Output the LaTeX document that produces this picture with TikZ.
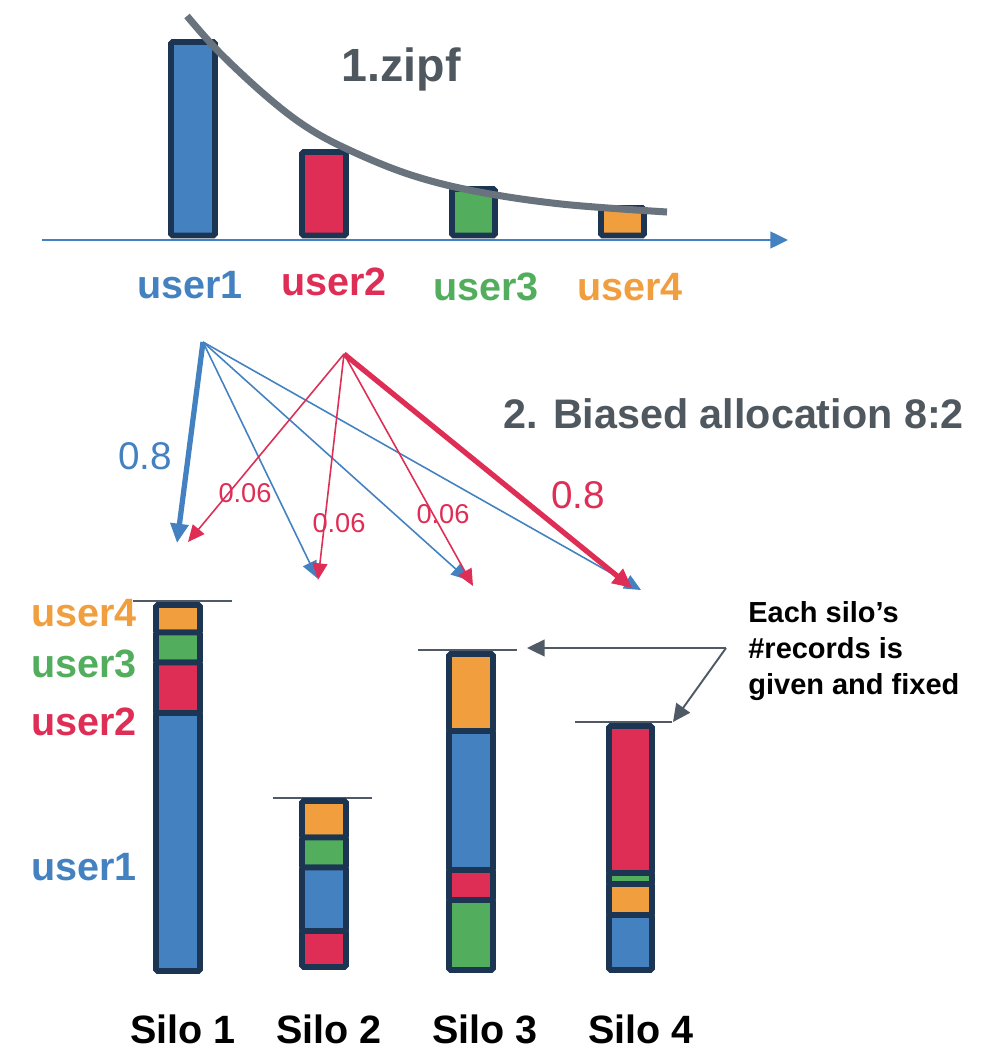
\documentclass[tikz,border=0pt]{standalone}
\usepackage{fontspec}
\setmainfont{Liberation Sans}
\usetikzlibrary{arrows.meta, positioning}
\definecolor{ublue}{HTML}{4381C0}
\definecolor{ured}{HTML}{DF2E55}
\definecolor{ugreen}{HTML}{52AE5D}
\definecolor{uorange}{HTML}{F09E3E}
\definecolor{navy}{HTML}{1B3553}
\definecolor{curvegray}{HTML}{69737D}
\definecolor{textgray}{HTML}{4F575F}
\definecolor{notegray}{HTML}{4F5A66}
\tikzstyle{bar} = [draw=navy, line width=3.3pt, rounded corners=1pt]
\tikzstyle{siloline} = [draw=notegray, line width=1.1pt]
\tikzstyle{flow} = [-{Triangle[length=9.5pt,width=8.5pt]}, line width=0.9pt]
\tikzstyle{bigflow} = [-{Triangle[length=11pt,width=10pt]}, line width=3pt]
\tikzstyle{pointer} = [-{Triangle[length=10pt,width=9.5pt]}, draw=notegray, line width=1.1pt]
\tikzstyle{lbl} = [font=\bfseries\fontsize{22.5}{27}\selectfont, inner sep=0pt]
\tikzstyle{prob} = [font=\fontsize{22}{26}\selectfont, inner sep=0pt]
\tikzstyle{smallprob} = [font=\fontsize{15.5}{18}\selectfont, inner sep=0pt, ured]

\begin{document}
\begin{tikzpicture}[x=0.02cm, y=-0.02cm]
  \useasboundingbox (0,0) rectangle (982,1054);
  % zipf bars
  \foreach \xl/\xr/\yt/\c in {171/215/42/ublue, 302/346/152/ured,
      452/495/189/ugreen, 601/644/208/uorange}
    \draw[bar, fill=\c] (\xl,\yt) rectangle (\xr,235.5);
  \coordinate (axstart) at (42,240);
  \coordinate (axend) at (788,240);
  \draw[ublue, line width=1.2pt, -{Triangle[length=10pt,width=9.5pt]}] (axstart) -- (axend);
  \draw[curvegray, line width=4pt] plot[smooth, tension=0.6] coordinates
    {(187,16) (219,52) (265,95) (305,126) (347,149) (408,174) (474,191) (561,204) (667,212)};
  \node[font=\bfseries\fontsize{26.5}{32}\selectfont, textgray, anchor=base, inner sep=0pt] (zipf) at (401,82) {1.zipf};
  \node[lbl, ublue, anchor=base] (top1) at (190,298) {user1};
  \node[lbl, ured, anchor=base] (top2) at (334,295) {user2};
  \node[lbl, ugreen, anchor=base] (top3) at (486,300) {user3};
  \node[lbl, uorange, anchor=base] (top4) at (630,300) {user4};

  % biased allocation
  \node[font=\bfseries\fontsize{23.5}{28}\selectfont, textgray, anchor=base west, inner sep=0pt] (bias) at (503,428) {2. Biased allocation 8:2};
  \coordinate (src1) at (203,342);
  \coordinate (src2) at (344,354);
  \coordinate (b1) at (177,543);
  \coordinate (b2) at (317,578);
  \coordinate (b3) at (468,580);
  \coordinate (b4) at (641,590);
  \coordinate (r1) at (188,542);
  \coordinate (r2) at (318,580);
  \coordinate (r3) at (473,586);
  \coordinate (r4) at (632,588);
  \draw[bigflow, ublue] (src1) -- (b1);
  \foreach \t in {b2,b3,b4}
    \draw[flow, ublue] (src1) -- (\t);
  \foreach \t in {r1,r2,r3}
    \draw[flow, ured] (src2) -- (\t);
  \draw[bigflow, ured] (src2) -- (r4);
  \node[prob, ublue, anchor=base] (p1) at (145,469) {0.8};
  \node[prob, ured, anchor=base] (p2) at (578,508) {0.8};
  \node[smallprob, anchor=base] (q1) at (245,502) {0.06};
  \node[smallprob, anchor=base] (q2) at (339,532) {0.06};
  \node[smallprob, anchor=base] (q3) at (443,523) {0.06};

  % silos
  \draw[siloline] (133,601) -- (232,601);
  \draw[siloline] (273,798) -- (372,798);
  \draw[siloline] (418,650) -- (517,650);
  \draw[siloline] (575,722) -- (672,722);
  \foreach \xl/\xr/\yt/\yb/\c in {
      156/200/605/632.5/uorange, 156/200/632.5/662.5/ugreen,
      156/200/662.5/713/ured, 156/200/713/971/ublue,
      302/346/801/837.5/uorange, 302/346/837.5/867.5/ugreen,
      302/346/867.5/931/ublue, 302/346/931/967/ured,
      449/493/654/731/uorange, 449/493/731/870/ublue,
      449/493/870/900/ured, 449/493/900/970/ugreen,
      609/652/726/873/ured, 609/652/873/884/ugreen,
      609/652/884/915/uorange, 609/652/915/970/ublue}
    \draw[bar, fill=\c] (\xl,\yt) rectangle (\xr,\yb);
  \node[lbl, uorange, anchor=base west] (side4) at (31,626) {user4};
  \node[lbl, ugreen, anchor=base west] (side3) at (31,677) {user3};
  \node[lbl, ured, anchor=base west] (side2) at (31,735) {user2};
  \node[lbl, ublue, anchor=base west] (side1) at (31,880) {user1};
  \node[lbl, anchor=base] (silo1) at (183,1043) {Silo 1};
  \node[lbl, anchor=base] (silo2) at (329,1043) {Silo 2};
  \node[lbl, anchor=base] (silo3) at (485,1043) {Silo 3};
  \node[lbl, anchor=base] (silo4) at (641,1043) {Silo 4};

  % annotation
  \node[anchor=north west, align=left, inner sep=0pt, font=\bfseries\fontsize{16.5}{20.6}\selectfont] (note) at (748,601) {Each silo’s\\\#records is\\given and fixed};
  \coordinate (elbow) at (726,648);
  \coordinate (tip3) at (527,648);
  \coordinate (tip4) at (673,722);
  \draw[pointer] (elbow) -- (tip3);
  \draw[pointer] (elbow) -- (tip4);
\end{tikzpicture}
\end{document}
